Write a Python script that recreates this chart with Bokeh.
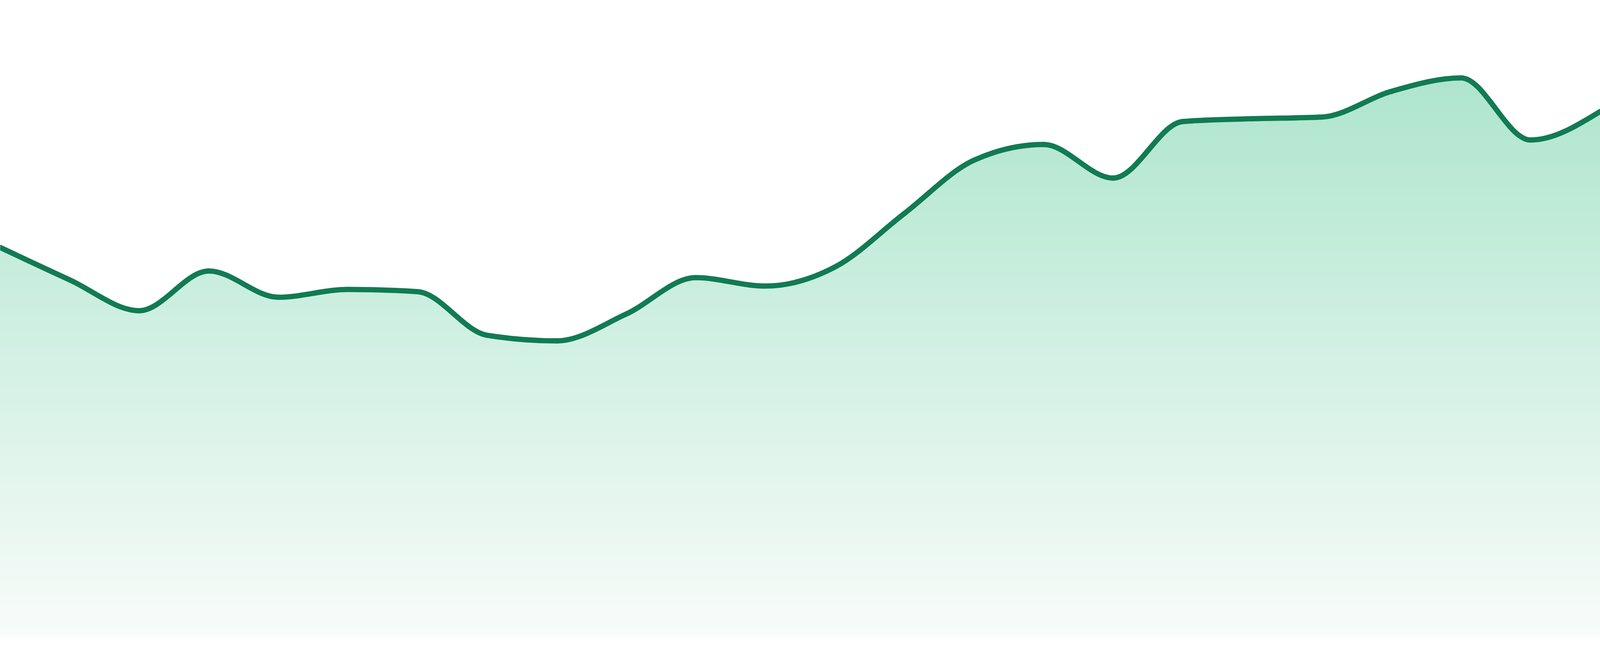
import numpy as np
from bokeh.plotting import figure
from bokeh.models import Range1d
from bokeh.embed import file_html
from bokeh.resources import INLINE

# ---- data ----
periods = list(range(24))
values = [69.7, 63.9, 58.4, 65.5, 60.8, 62.2, 61.8, 54.0, 53.0, 57.8, 64.3, 62.8,
          66.2, 75.8, 85.3, 88.1, 82.1, 92.2, 92.7, 93.0, 97.6, 100.0, 88.9, 94.0]

# ---- styles / layout ----
LINE_COLOR = "#117b53"
TOP_RGB = np.array([174, 229, 206], dtype=float)
BOTTOM_RGB = np.array([248, 252, 250], dtype=float)

W = 4096          # the page is rendered 4096 CSS px wide (no body margin)
H = 1680
REF_H = 1680.0    # reference height in px
BASE_PX = 1632.0  # reference px row of value 0
PX_PER_UNIT = 14.33
N_LAYERS = 160


def monotone_tangents(x, y):
    """Tangents as in d3.curveMonotoneX."""
    n = len(x)
    t = np.zeros(n)
    for i in range(1, n - 1):
        h0 = x[i] - x[i - 1]
        h1 = x[i + 1] - x[i]
        s0 = (y[i] - y[i - 1]) / h0
        s1 = (y[i + 1] - y[i]) / h1
        p = (s0 * h1 + s1 * h0) / (h0 + h1)
        t[i] = (np.sign(s0) + np.sign(s1)) * min(abs(s0), abs(s1), 0.5 * abs(p))
    h = x[1] - x[0]
    t[0] = (3 * (y[1] - y[0]) / h - t[1]) / 2
    h = x[-1] - x[-2]
    t[-1] = (3 * (y[-1] - y[-2]) / h - t[-2]) / 2
    return t


x = np.array(periods, dtype=float)
y = np.array(values, dtype=float)
tan = monotone_tangents(x, y)

x0s, y0s, x1s, y1s = x[:-1], y[:-1], x[1:], y[1:]
dx = (x1s - x0s) / 3.0
cx0, cy0 = x0s + dx, y0s + dx * tan[:-1]
cx1, cy1 = x1s - dx, y1s - dx * tan[1:]

# outline of the curve (evaluated bezier segments) for the area fill
ts = np.linspace(0, 1, 60)
cxs, cys = [], []
for k in range(len(x0s)):
    b0 = (1 - ts) ** 3
    b1 = 3 * (1 - ts) ** 2 * ts
    b2 = 3 * (1 - ts) * ts ** 2
    b3 = ts ** 3
    cxs.append(b0 * x0s[k] + b1 * cx0[k] + b2 * cx1[k] + b3 * x1s[k])
    cys.append(b0 * y0s[k] + b1 * cy0[k] + b2 * cy1[k] + b3 * y1s[k])
cx_all = np.concatenate([[x[0] - 0.3]] + cxs + [[x[-1] + 0.3]])
cy_all = np.concatenate([[y[0] - 0.3 * tan[0]]] + cys + [[y[-1] + 0.3 * tan[-1]]])

# ranges: data spans the whole page width; vertical placement as in reference
x_start = float(x[0])
x_end = float(x[-1])
y_end = BASE_PX / PX_PER_UNIT
y_start = (BASE_PX - REF_H) / PX_PER_UNIT

p = figure(width=W, height=H, output_backend="svg", toolbar_location=None,
           x_range=Range1d(x_start, x_end), y_range=Range1d(y_start, y_end),
           x_axis_location=None, y_axis_location=None, min_border=0)
p.outline_line_color = None
p.grid.visible = False
p.background_fill_color = "white"
p.border_fill_color = "white"

# vertical gradient: opaque layers, each from its lower bound up to the curve
vmax = float(np.max(y))
for k in range(N_LAYERS):
    lo = vmax * k / N_LAYERS
    f = (k + 0.5) / N_LAYERS
    rgb = BOTTOM_RGB + (TOP_RGB - BOTTOM_RGB) * f
    col = "#%02x%02x%02x" % tuple(int(round(c)) for c in rgb)
    top = np.maximum(cy_all, lo)
    p.varea(x=cx_all, y1=np.full_like(cx_all, lo), y2=top,
            fill_color=col, fill_alpha=1.0)

# the line itself
p.bezier(x0=x0s, y0=y0s, x1=x1s, y1=y1s, cx0=cx0, cy0=cy0, cx1=cx1, cy1=cy1,
         line_color=LINE_COLOR, line_width=13.5, line_cap="round")

open("out.html", "w").write(file_html(p, INLINE))
